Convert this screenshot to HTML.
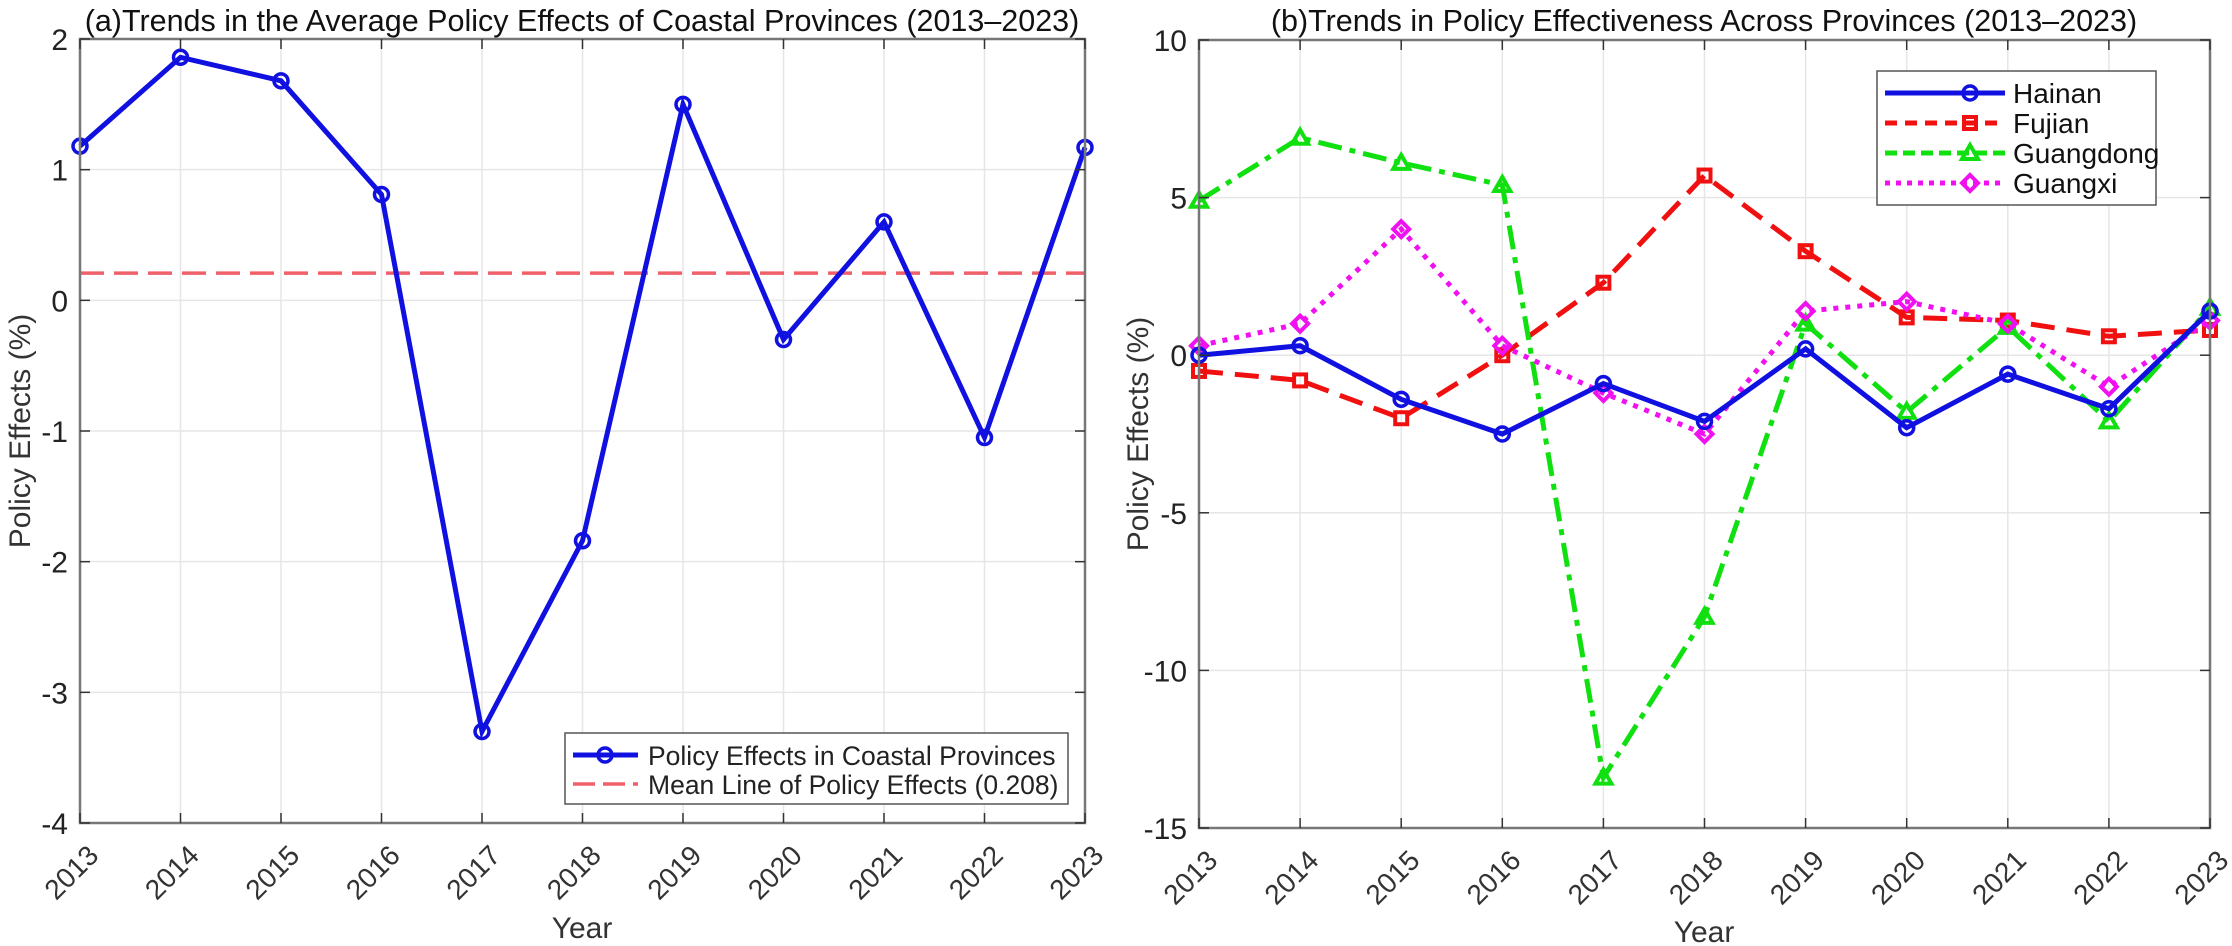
<!DOCTYPE html>
<html><head><meta charset="utf-8"><style>
html,body{margin:0;padding:0;background:#fff;}
svg{display:block;font-family:"Liberation Sans",Arial,sans-serif;}
</style></head><body>
<svg id="s" width="2232" height="946" xmlns="http://www.w3.org/2000/svg"></svg>
<script>
const s=document.getElementById('s');let h='';
function axes(x0,x1,y0,y1,ymin,ymax,ystep){
  const X=i=>x0+(x1-x0)*i/10, Y=v=>y1-(v-ymin)/(ymax-ymin)*(y1-y0);
  for(let i=0;i<=10;i++){h+=`<line x1="${X(i)}" y1="${y0}" x2="${X(i)}" y2="${y1}" stroke="#e6e6e6" stroke-width="1.5"/>`;}
  for(let v=ymin;v<=ymax;v+=ystep){h+=`<line x1="${x0}" y1="${Y(v)}" x2="${x1}" y2="${Y(v)}" stroke="#e6e6e6" stroke-width="1.5"/>`;}
  return {X,Y};
}
function frame(x0,x1,y0,y1,ymin,ymax,ystep,X,Y){
  h+=`<rect x="${x0}" y="${y0}" width="${x1-x0}" height="${y1-y0}" fill="none" stroke="#777" stroke-width="2.5"/>`;
  for(let i=0;i<=10;i++){h+=`<line x1="${X(i)}" y1="${y1}" x2="${X(i)}" y2="${y1-10}" stroke="#333" stroke-width="1.5"/><line x1="${X(i)}" y1="${y0}" x2="${X(i)}" y2="${y0+10}" stroke="#333" stroke-width="1.5"/>`;
    const tx=X(i)+6, ty=y1+20;
    h+=`<text x="${tx}" y="${ty}" font-size="28" fill="#333" text-anchor="end" transform="rotate(-45 ${tx} ${ty})" dominant-baseline="hanging">${2013+i}</text>`;}
  for(let v=ymin;v<=ymax;v+=ystep){h+=`<line x1="${x0}" y1="${Y(v)}" x2="${x0+10}" y2="${Y(v)}" stroke="#333" stroke-width="1.5"/><line x1="${x1}" y1="${Y(v)}" x2="${x1-10}" y2="${Y(v)}" stroke="#333" stroke-width="1.5"/>`;
    h+=`<text x="${x0-12}" y="${Y(v)+11}" font-size="30" fill="#222" text-anchor="end">${v}</text>`;}
}
function series(d,X,Y,col,dash,mk){
  h+=`<polyline points="${d.map((v,i)=>X(i)+','+Y(v)).join(' ')}" fill="none" stroke="${col}" stroke-width="5" ${dash?`stroke-dasharray="${dash}"`:''}/>`;
  d.forEach((v,i)=>h+=marker(X(i),Y(v),col,mk));
}
function marker(x,y,col,mk){
  if(mk=='o')return `<circle cx="${x}" cy="${y}" r="7" fill="none" stroke="${col}" stroke-width="3.5"/>`;
  if(mk=='s')return `<rect x="${x-6}" y="${y-6}" width="12" height="12" fill="none" stroke="${col}" stroke-width="4"/>`;
  if(mk=='^')return `<polygon points="${x},${y-8} ${x+8},${y+6} ${x-8},${y+6}" fill="none" stroke="${col}" stroke-width="4"/>`;
  if(mk=='d')return `<polygon points="${x},${y-8} ${x+8},${y} ${x},${y+8} ${x-8},${y}" fill="none" stroke="${col}" stroke-width="4"/>`;
}
// Left
let a=axes(80,1085,39,823,-4,2,1);
h+=`<line x1="80" y1="${a.Y(0.208)}" x2="1085" y2="${a.Y(0.208)}" stroke="#f0606a" stroke-width="3.5" stroke-dasharray="24,10"/>`;
series([1.18,1.86,1.68,0.81,-3.30,-1.84,1.50,-0.30,0.60,-1.05,1.17],a.X,a.Y,'#1010e0',null,'o');
frame(80,1085,39,823,-4,2,1,a.X,a.Y);
h+=`<text x="582" y="31" font-size="30.5" text-anchor="middle" fill="#111">(a)Trends in the Average Policy Effects of Coastal Provinces (2013–2023)</text>`;
h+=`<text x="582" y="938" font-size="30" text-anchor="middle" fill="#333">Year</text>`;
h+=`<text x="30" y="431" font-size="30" text-anchor="middle" fill="#333" transform="rotate(-90 30 431)">Policy Effects (%)</text>`;
h+=`<rect x="565" y="733" width="503" height="71" fill="#fff" stroke="#555" stroke-width="1.5"/>`;
h+=`<line x1="573" y1="755" x2="638" y2="755" stroke="#1010e0" stroke-width="5"/><circle cx="605" cy="755" r="7" fill="none" stroke="#1010e0" stroke-width="3.5"/>`;
h+=`<text x="648" y="765" font-size="26.5" fill="#222">Policy Effects in Coastal Provinces</text>`;
h+=`<line x1="573" y1="784" x2="638" y2="784" stroke="#f0606a" stroke-width="3.5" stroke-dasharray="22,8"/>`;
h+=`<text x="648" y="794" font-size="26.5" fill="#222">Mean Line of Policy Effects (0.208)</text>`;
// Right
let b=axes(1199,2210,40,828,-15,10,5);
series([-0.5,-0.8,-2.0,0.0,2.3,5.7,3.3,1.2,1.1,0.6,0.8],b.X,b.Y,'#f01010','24,12','s');
series([4.9,6.9,6.1,5.4,-13.4,-8.3,1.0,-1.8,0.9,-2.1,1.5],b.X,b.Y,'#10e010','24,8,6,8','^');
series([0.3,1.0,4.0,0.3,-1.2,-2.5,1.4,1.7,1.0,-1.0,1.1],b.X,b.Y,'#f010f0','5,7','d');
series([0.0,0.3,-1.4,-2.5,-0.9,-2.1,0.2,-2.3,-0.6,-1.7,1.4],b.X,b.Y,'#1010e0',null,'o');
frame(1199,2210,40,828,-15,10,5,b.X,b.Y);
h+=`<text x="1704" y="31" font-size="30.5" text-anchor="middle" fill="#111">(b)Trends in Policy Effectiveness Across Provinces (2013–2023)</text>`;
h+=`<text x="1704" y="942" font-size="30" text-anchor="middle" fill="#333">Year</text>`;
h+=`<text x="1148" y="434" font-size="30" text-anchor="middle" fill="#333" transform="rotate(-90 1148 434)">Policy Effects (%)</text>`;
h+=`<rect x="1877" y="71" width="279" height="134" fill="#fff" stroke="#555" stroke-width="1.5"/>`;
[['Hainan','#1010e0',null,'o'],['Fujian','#f01010','12,8','s'],['Guangdong','#10e010','12,6','^'],['Guangxi','#f010f0','5,6','d']].forEach((l,i)=>{
  const y=93+i*30;
  h+=`<line x1="1885" y1="${y}" x2="2005" y2="${y}" stroke="${l[1]}" stroke-width="5" ${l[2]?`stroke-dasharray="${l[2]}"`:''}/>`+marker(1970,y,l[1],l[3]);
  h+=`<text x="2013" y="${y+10}" font-size="28" fill="#111">${l[0]}</text>`;
});
s.innerHTML=h;
</script>
</body></html>
